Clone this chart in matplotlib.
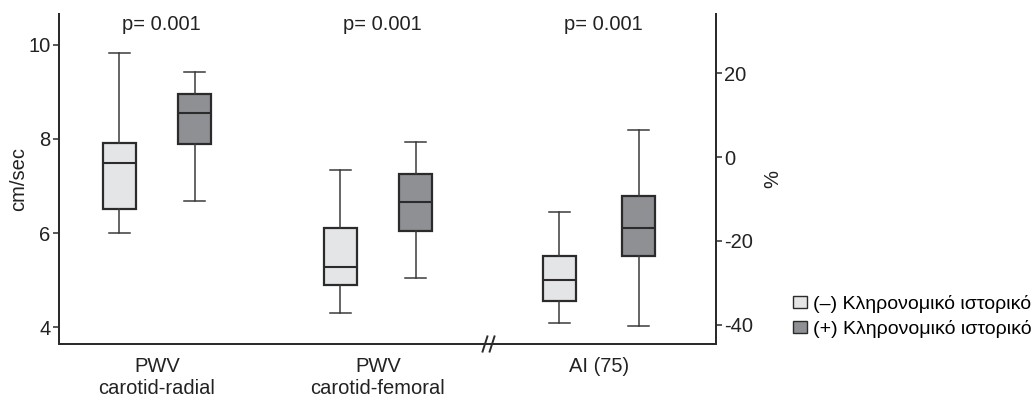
import matplotlib
matplotlib.use('Agg')
import matplotlib.pyplot as plt
import matplotlib.transforms as mtransforms
from matplotlib.patches import Patch

plt.rcParams['font.family'] = ['Liberation Sans', 'DejaVu Sans']
plt.rcParams['font.size'] = 14.5
plt.rcParams['axes.unicode_minus'] = False

# data
categories = ['PWV\ncarotid-radial', 'PWV\ncarotid-femoral', 'AI (75)']
legend_labels = ['(–) Κληρονομικό ιστορικό', '(+) Κληρονομικό ιστορικό']
p_values = ['p= 0.001', 'p= 0.001', 'p= 0.001']

# [whislo, q1, med, q3, whishi]  -- cm/sec, left axis
pwv_radial_neg = [6.00, 6.51, 7.48, 7.92, 9.83]
pwv_radial_pos = [6.68, 7.89, 8.54, 8.96, 9.43]
pwv_femoral_neg = [4.31, 4.90, 5.27, 6.11, 7.35]
pwv_femoral_pos = [5.05, 6.04, 6.65, 7.25, 7.94]
# %, right axis
ai_neg = [-39.6, -34.3, -29.3, -23.5, -13.0]
ai_pos = [-40.3, -23.7, -17.0, -9.4, 6.4]

left_ticks = [4, 6, 8, 10]
right_ticks = [-40, -20, 0, 20]

light = '#e4e5e7'
dark = '#8f9094'
edge = '#2b2b2b'


def stats(v):
    return dict(whislo=v[0], q1=v[1], med=v[2], q3=v[3], whishi=v[4], fliers=[])


def draw(ax, vals, pos, color):
    ax.bxp([stats(vals)], positions=[pos], widths=0.149, capwidths=0.095,
           showfliers=False, patch_artist=True,
           boxprops=dict(facecolor=color, edgecolor=edge, linewidth=1.6),
           medianprops=dict(color=edge, linewidth=1.5),
           whiskerprops=dict(color='#3a3a3a', linewidth=1.1),
           capprops=dict(color='#3a3a3a', linewidth=1.1))


fig = plt.figure(figsize=(10.34, 3.98), dpi=100)
ax = fig.add_axes([59 / 1034, 1 - 344 / 398, 657 / 1034, 330 / 398])
ax2 = ax.twinx()

off = 0.17
draw(ax, pwv_radial_neg, 0 - off, light)
draw(ax, pwv_radial_pos, 0 + off, dark)
draw(ax, pwv_femoral_neg, 1 - off, light)
draw(ax, pwv_femoral_pos, 1 + off, dark)
draw(ax2, ai_neg, 2 - 0.18, light)
draw(ax2, ai_pos, 2 + 0.18, dark)

ax.set_xlim(-0.443, 2.529)
ax.set_ylim(3.645, 10.652)
ax2.set_ylim(-44.55, 34.08)

ax.set_xticks([0, 1, 2])
ax.set_xticklabels(categories, linespacing=1.22)
ax.set_yticks(left_ticks)
ax2.set_yticks(right_ticks)

for a in (ax, ax2):
    a.spines['top'].set_visible(False)
    for s in a.spines.values():
        s.set_linewidth(1.4)
        s.set_color('#2b2b2b')
    a.tick_params(axis='y', length=4, width=1.1, pad=2, colors='#2b2b2b', labelcolor='#222222')
ax.tick_params(axis='x', length=0, pad=9, labelcolor='#222222')

ax.set_ylabel('cm/sec', labelpad=0, color='#222222')
ax2.set_ylabel('%', labelpad=7, color='#222222')

# p values above the groups
trans = mtransforms.blended_transform_factory(ax.transData, ax.transAxes)
for i, p in enumerate(p_values):
    ax.text(i + 0.02, 0.967, p, transform=trans, ha='center', va='center', color='#222222')

# axis break "//" on the bottom spine
for dx in (-0.016, 0.016):
    ax.plot([1.5 + dx - 0.011, 1.5 + dx + 0.011], [-0.023, 0.023], transform=trans,
            color='#2b2b2b', linewidth=1.4, clip_on=False)

handles = [Patch(facecolor=light, edgecolor=edge, linewidth=1.0),
           Patch(facecolor=dark, edgecolor=edge, linewidth=1.0)]
fig.legend(handles, legend_labels, loc='lower left',
           bbox_to_anchor=(793 / 1034, 1 - 338 / 398), frameon=False,
           handlelength=0.7, handleheight=0.6, handletextpad=0.35,
           labelspacing=0.38, borderpad=0, borderaxespad=0, fontsize=14)

fig.savefig('out.png', dpi=100)
